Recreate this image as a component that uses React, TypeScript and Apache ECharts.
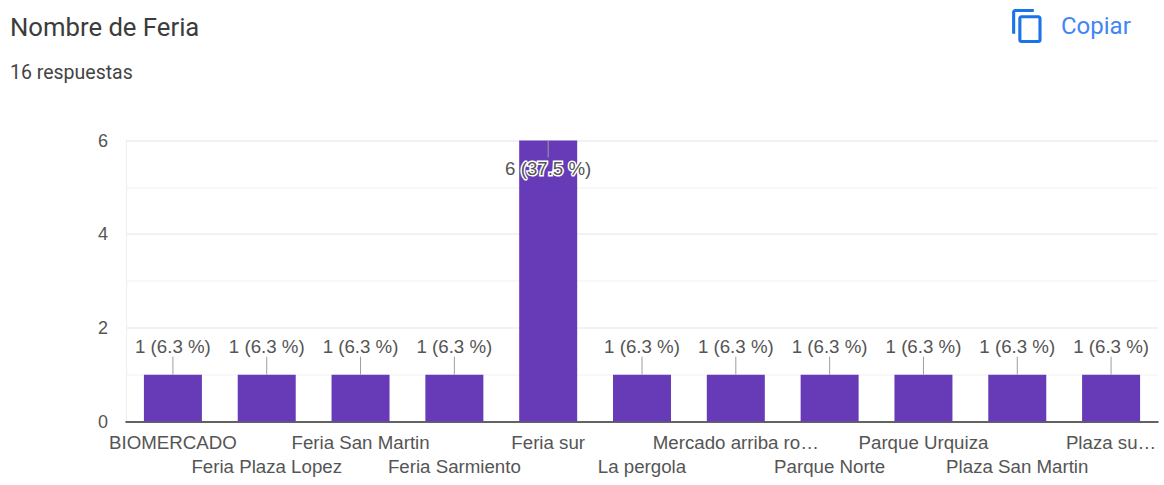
import React, { useEffect, useRef } from "react";
import * as echarts from "echarts";

const categories = ["BIOMERCADO", "Feria Plaza Lopez", "Feria San Martin", "Feria Sarmiento", "Feria sur", "La pergola", "Mercado arriba ro…", "Parque Norte", "Parque Urquiza", "Plaza San Martin", "Plaza su…"];
const counts = [1, 1, 1, 1, 6, 1, 1, 1, 1, 1, 1];
const percents = ["6.3", "6.3", "6.3", "6.3", "37.5", "6.3", "6.3", "6.3", "6.3", "6.3", "6.3"];

const FONT = "'Liberation Sans', Arial, sans-serif";
const TEXT = "#555555";
const TOP_LIMIT = 6;

echarts.graphic.registerShape(
  "copyIcon",
  echarts.graphic.extendPath(
    "M16 1H4c-1.1 0-2 .9-2 2v14h2V3h12V1zm3 4H8c-1.1 0-2 .9-2 2v14c0 1.1.9 2 2 2h11c1.1 0 2-.9 2-2V7c0-1.1-.9-2-2-2zm0 16H8V7h11v14z",
    {}
  )
);

export default function App() {
  const ref = useRef<HTMLDivElement>(null);
  useEffect(() => {
    document.body.style.margin = "0";
    const chart = echarts.init(ref.current!, null, { renderer: "svg" });
    chart.setOption({
      animation: false,
      backgroundColor: "#ffffff",
      grid: { left: 126, right: 6, top: 140.5, bottom: 63.5, containLabel: false },
      graphic: [
        { type: "text", x: 10, y: 14, style: { text: "Nombre de Feria", font: "400 25.7px Roboto, sans-serif", fill: "#3c3c3c" } },
        { type: "text", x: 10, y: 62, style: { text: "16 respuestas", font: "400 19.5px Roboto, sans-serif", fill: "#444444" } },
        { type: "copyIcon", x: 1009, y: 7.4, scaleX: 1.55, scaleY: 1.55, style: { fill: "#1a73e8" } },
        { type: "text", x: 1061, y: 14, style: { text: "Copiar", font: "400 24px Roboto, sans-serif", fill: "#4285f4" } },
      ],
      xAxis: {
        type: "category",
        data: categories,
        axisLine: { show: true, lineStyle: { color: "#333333", width: 1.5 } },
        axisTick: { show: false },
        axisLabel: {
          interval: 0,
          margin: 9,
          hideOverlap: false,
          color: TEXT,
          fontFamily: FONT,
          fontSize: 18.7,
          lineHeight: 24,
          formatter: (v: string, i: number) => (i % 2 ? "\n" + v : v),
        },
      },
      yAxis: {
        type: "value",
        min: 0,
        max: TOP_LIMIT,
        interval: 1,
        axisLine: { show: true, lineStyle: { color: "#eeeeee", width: 1 } },
        axisTick: { show: false },
        axisLabel: {
          margin: 18,
          color: TEXT,
          fontFamily: FONT,
          fontSize: 18,
          formatter: (v: number) => (v % 2 === 0 ? String(v) : ""),
        },
        splitLine: {
          show: true,
          lineStyle: {
            width: 1.5,
            color: ["#eeeeee", "#f6f6f6"],
          },
        },
      },
      series: [
        {
          type: "bar",
          data: counts,
          barWidth: 58,
          itemStyle: { color: "#673ab7" },
          z: 2,
        },
        {
          type: "custom",
          data: counts.map((c, i) => [i, c]),
          z: 5,
          silent: true,
          renderItem: (params: any, api: any) => {
            const i = api.value(0);
            const c = api.value(1);
            const [x, y] = api.coord([i, c]);
            const atTop = c >= TOP_LIMIT;
            const lineEnd = atTop ? y + 17 : y - 18;
            const labelY = atTop ? y + 28 : y - 28;
            return {
              type: "group",
              children: [
                {
                  type: "line",
                  shape: { x1: x, y1: y, x2: x, y2: lineEnd },
                  style: { stroke: "#9e9e9e", lineWidth: 1 },
                },
                {
                  type: "text",
                  x,
                  y: labelY,
                  style: {
                    text: `${counts[i]} (${percents[i]} %)`,
                    fill: TEXT,
                    font: `18.7px ${FONT}`,
                    align: "center",
                    verticalAlign: "middle",
                    stroke: "#ffffff",
                    lineWidth: 3,
                  },
                },
              ],
            };
          },
        },
      ],
    });
    return () => chart.dispose();
  }, []);
  return <div ref={ref} style={{ width: 1164, height: 485 }} />;
}
